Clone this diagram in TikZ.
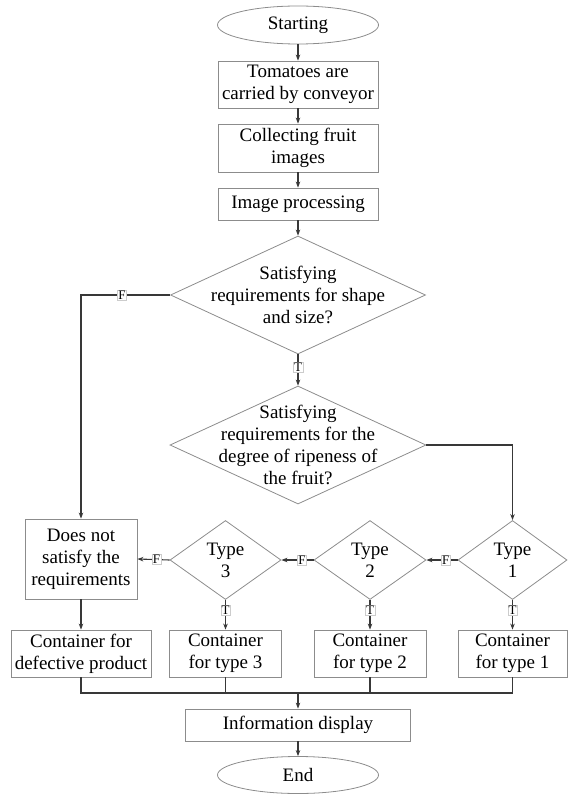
\documentclass[tikz,border=0pt]{standalone}
\usepackage{fontspec}
\setmainfont{Liberation Serif}
\usetikzlibrary{shapes.geometric,arrows.meta}
\definecolor{nodegray}{HTML}{8C8C8C}
\definecolor{linegray}{HTML}{383838}
\begin{document}
\begin{tikzpicture}[x=1pt,y=-1pt,
  every node/.style={font=\fontsize{19}{22}\selectfont},
  box/.style={draw=nodegray, line width=0.8pt, rectangle, inner sep=0pt, align=center},
  term/.style={draw=nodegray, line width=0.8pt, ellipse, inner sep=0pt, minimum width=161pt, minimum height=38pt},
  dia/.style={draw=nodegray, line width=0.8pt, diamond, inner sep=0pt},
  plain/.style={draw=linegray, line width=1.1pt},
  conn/.style={plain, -{Stealth[length=6pt,width=4.5pt]}},
  tf/.style={fill=white, draw=gray!40, line width=0.4pt, inner sep=0.8pt, font=\fontsize{13}{13}\selectfont, text=black}
]
\useasboundingbox (0,0) rectangle (567,794);

\node[term] (start) at (298,25) {Starting};
\node[box, minimum width=160pt, minimum height=47pt] (tom) at (298,84.5) {Tomatoes are\\carried by conveyor};
\node[box, minimum width=160pt, minimum height=48pt] (coll) at (298,148) {Collecting fruit\\images};
\node[box, minimum width=160pt, minimum height=32pt] (proc) at (298,204) {Image processing};
\node[dia, minimum width=255pt, minimum height=118pt,
  label={[align=center]center:{Satisfying\\requirements for shape\\and size?}}] (d1) at (298,295) {};
\node[dia, minimum width=256pt, minimum height=118pt,
  label={[align=center]center:{Satisfying\\requirements for the\\degree of ripeness of\\the fruit?}}] (d2) at (298,445) {};

\node[box, minimum width=112pt, minimum height=80pt] (dns) at (81,559) {Does not\\satisfy the\\requirements};
\node[dia, minimum width=111pt, minimum height=79pt, label={[align=center]center:{Type\\3}}] (t3) at (225.5,560) {};
\node[dia, minimum width=112pt, minimum height=79pt, label={[align=center]center:{Type\\2}}] (t2) at (370,560) {};
\node[dia, minimum width=109pt, minimum height=79pt, label={[align=center]center:{Type\\1}}] (t1) at (512.5,560) {};

\node[box, minimum width=140pt, minimum height=47pt] (c0) at (81,653.5) {Container for\\defective product};
\node[box, minimum width=112pt, minimum height=47pt] (c3) at (225.5,653.5) {Container\\for type 3};
\node[box, minimum width=112pt, minimum height=47pt] (c2) at (370,653.5) {Container\\for type 2};
\node[box, minimum width=109pt, minimum height=47pt] (c1) at (512.5,653.5) {Container\\for type 1};

\node[box, minimum width=225pt, minimum height=32pt] (info) at (298,725) {Information display};
\node[term, minimum height=37pt] (end) at (298,775) {End};
\coordinate (bus) at (298,693);

\draw[conn] (start.south) -- (tom.north);
\draw[conn] (tom.south) -- (coll.north);
\draw[conn] (coll.south) -- (proc.north);
\draw[conn] (proc.south) -- (d1.north);
\draw[conn] (d1.west) -- node[tf, pos=0.54]{F} (dns.north |- d1.west) -- (dns.north);
\draw[conn] (d1.south) -- node[tf, pos=0.4]{T} (d2.north);
\draw[conn] (d2.east) -| (t1.north);
\draw[conn] (t1.west) -- node[tf, pos=0.38]{F} (t2.east);
\draw[conn] (t2.west) -- node[tf, pos=0.36]{F} (t3.east);
\draw[conn] (t3.west) -- node[tf, pos=0.41]{F} (dns.east);
\draw[conn] (t1.south) -- node[tf, pos=0.35]{T} (c1.north);
\draw[conn] (t2.south) -- node[tf, pos=0.35]{T} (c2.north);
\draw[conn] (t3.south) -- node[tf, pos=0.35]{T} (c3.north);
\draw[conn] (dns.south) -- (c0.north);
\draw[plain] (c0.south) -- (c0.south |- bus) -- (c1.south |- bus) -- (c1.south);
\draw[plain] (c3.south) -- (c3.south |- bus);
\draw[plain] (c2.south) -- (c2.south |- bus);
\draw[conn] (bus) -- (info.north);
\draw[conn] (info.south) -- (end.north);
\end{tikzpicture}
\end{document}
